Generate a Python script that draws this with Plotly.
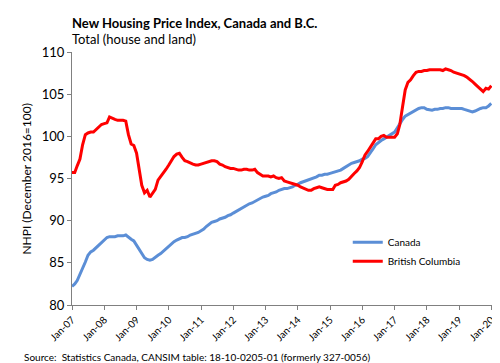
import plotly.graph_objects as go
import pandas as pd

months = pd.date_range("2007-01-01", "2020-01-01", freq="MS")

canada = [
    82.2, 82.5, 82.9, 83.6, 84.4, 85.1, 85.9, 86.3, 86.5, 86.8, 87.1, 87.5,
    87.7, 88.0, 88.1, 88.1, 88.1, 88.2, 88.2, 88.2, 88.3, 88.0, 87.8, 87.6,
    87.1, 86.6, 86.1, 85.6, 85.4, 85.3, 85.4, 85.6, 85.9, 86.1, 86.4, 86.7,
    87.0, 87.3, 87.5, 87.7, 87.9, 88.0, 88.0, 88.1, 88.3, 88.4, 88.5, 88.6,
    88.8, 89.0, 89.3, 89.6, 89.8, 89.9, 90.0, 90.2, 90.3, 90.4, 90.6, 90.7,
    90.9, 91.1, 91.3, 91.5, 91.7, 91.8, 92.0, 92.1, 92.3, 92.5, 92.6, 92.8,
    92.9, 93.0, 93.2, 93.3, 93.4, 93.6, 93.7, 93.8, 93.8, 93.9, 94.0, 94.2,
    94.3, 94.5, 94.6, 94.7, 94.8, 95.0, 95.1, 95.2, 95.4, 95.4, 95.5, 95.5,
    95.6, 95.7, 95.8, 95.9, 96.0, 96.2, 96.4, 96.6, 96.8, 96.9, 97.0, 97.1,
    97.3, 97.4, 97.6, 98.0, 98.5, 99.0, 99.3, 99.5, 99.7, 99.9, 100.0, 100.2,
    100.5, 101.0, 101.5, 102.0, 102.4, 102.6, 102.8, 103.0, 103.2, 103.3, 103.4, 103.4,
    103.2, 103.1, 103.1, 103.2, 103.2, 103.3, 103.3, 103.4, 103.4, 103.3, 103.3, 103.3,
    103.3, 103.3, 103.2, 103.1, 103.0, 102.9, 103.0, 103.2, 103.3, 103.4, 103.4, 103.6,
    103.9,
]

british_columbia = [
    95.7, 95.7, 96.5, 97.3, 99.0, 100.2, 100.4, 100.5, 100.5, 100.8, 101.2, 101.4,
    101.5, 101.6, 102.3, 102.1, 102.0, 101.9, 101.9, 101.9, 101.8, 100.2, 99.1, 98.9,
    98.0, 95.8, 94.2, 93.3, 93.6, 92.8, 93.3, 93.7, 94.8, 95.2, 95.6, 96.1,
    96.6, 97.1, 97.6, 97.9, 98.0, 97.5, 97.1, 97.0, 96.8, 96.7, 96.6, 96.6,
    96.7, 96.8, 96.9, 97.0, 97.1, 97.1, 97.0, 96.7, 96.6, 96.4, 96.3, 96.2,
    96.2, 96.1, 96.0, 96.0, 96.1, 96.1, 96.0, 96.0, 96.1, 95.7, 95.5, 95.3,
    95.3, 95.3, 95.2, 95.3, 95.1, 95.0, 95.1, 94.7, 94.6, 94.5, 94.4, 94.3,
    94.2, 94.0, 93.9, 93.7, 93.6, 93.6, 93.8, 93.9, 94.0, 93.9, 93.8, 93.7,
    93.7, 93.7, 94.2, 94.3, 94.5, 94.6, 94.7, 94.9, 95.3, 95.6, 95.9, 96.3,
    97.0, 97.8, 98.2, 98.8, 99.2, 99.7, 99.7, 100.0, 100.1, 99.9, 99.9, 99.9,
    99.9, 100.3, 101.4, 103.5, 105.5, 106.4, 106.7, 107.2, 107.6, 107.7, 107.7, 107.8,
    107.8, 107.9, 107.9, 107.9, 107.9, 107.9, 107.8, 108.0, 107.9, 107.8, 107.6, 107.5,
    107.4, 107.3, 107.2, 107.0, 106.8, 106.5, 106.2, 105.9, 105.6, 105.3, 105.7, 105.6,
    106.0,
]

title = "<b>New Housing Price Index, Canada and B.C.</b>"
subtitle = "Total (house and land)"
y_title = "NHPI (December 2016=100)"
source = "Source:  Statistics Canada, CANSIM table: 18-10-0205-01 (formerly 327-0056)"

FONT = "Lato, Open Sans, sans-serif"

fig = go.Figure()
fig.add_trace(go.Scatter(x=months, y=canada, name="Canada", mode="lines",
                         line=dict(color="#5B8ED6", width=3)))
fig.add_trace(go.Scatter(x=months, y=british_columbia, name="British Columbia",
                         mode="lines", line=dict(color="#FF0000", width=3)))

fig.update_layout(
    width=500, height=363,
    margin=dict(l=64, r=15, t=44, b=66),
    paper_bgcolor="white", plot_bgcolor="white",
    font=dict(family=FONT, color="#000000", size=11),
    showlegend=True,
    legend=dict(x=0.655, y=0.305, xanchor="left", yanchor="top",
                font=dict(size=10, family=FONT), bgcolor="rgba(0,0,0,0)",
                tracegroupgap=0),
    xaxis=dict(
        type="date",
        range=["2007-01-01", "2020-01-20"],
        tick0="2007-01-01", dtick="M12", tickformat="%b-%y",
        tickangle=-45, tickfont=dict(size=10),
        showgrid=False, zeroline=False,
        showline=True, linecolor="#808080", linewidth=1,
        ticks="outside", ticklen=4, tickcolor="#808080",
    ),
    yaxis=dict(
        range=[80, 110], dtick=5, tick0=80,
        tickfont=dict(size=13),
        showgrid=False, zeroline=False,
        showline=True, linecolor="#808080", linewidth=1,
        ticks="outside", ticklen=4, tickcolor="#808080",
    ),
    annotations=[
        dict(text=title, xref="paper", yref="paper", x=-0.005, y=1.115,
             xanchor="left", yanchor="middle", showarrow=False,
             font=dict(size=13, family=FONT)),
        dict(text=subtitle, xref="paper", yref="paper", x=-0.005, y=1.05,
             xanchor="left", yanchor="middle", showarrow=False,
             font=dict(size=13, family=FONT)),
        dict(text=y_title, xref="paper", yref="paper", x=-0.109, y=0.5,
             xanchor="center", yanchor="middle", showarrow=False, textangle=-90,
             font=dict(size=12, family=FONT)),
        dict(text=source, xref="paper", yref="paper", x=-0.119, y=-0.206,
             xanchor="left", yanchor="middle", showarrow=False,
             font=dict(size=10, family=FONT)),
    ],
)

fig.write_html("out.html")
